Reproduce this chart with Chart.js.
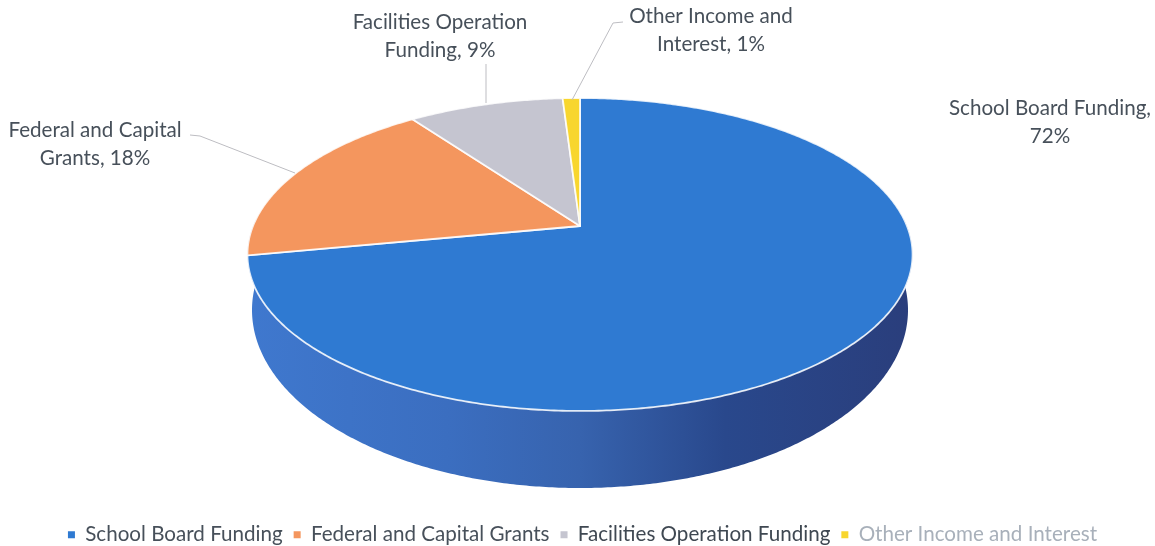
<!DOCTYPE html>
<html>
<head>
<meta charset="utf-8">
<title>Funding</title>
<script src="https://cdn.jsdelivr.net/npm/chart.js@4"></script>
<style>
  body { margin: 0; background: #fff; }
  canvas { display: block; }
</style>
</head>
<body>
<canvas id="fundingChart" width="1155" height="546"></canvas>
<script>
const categories = [
  "School Board Funding",
  "Federal and Capital Grants",
  "Facilities Operation Funding",
  "Other Income and Interest",
];
const shares = [72, 18, 9, 1];
const sliceColors = ["#2F7AD2", "#F4965E", "#C5C5D0", "#F8D62E"];
const legendTextColors = ["#47505a", "#47505a", "#3f4852", "#a8b0ba"];
const calloutLines = [
  ["School Board Funding,", "72%"],
  ["Federal and Capital", "Grants, 18%"],
  ["Facilities Operation", "Funding, 9%"],
  ["Other Income and", "Interest, 1%"],
];

// The tilted pie: top face and bottom rim are the circle seen in perspective
const topRim = { cx: 580, cy: 226, a: 327, b: 151.3, k: -0.182 };
const bottomRim = { cx: 580, cy: 310, a: 328, b: 178, k: 0 };

function project(rim, angle) {
  const u = Math.cos(angle);
  const v = Math.sin(angle);
  const d = 1 + rim.k * v;
  return { x: rim.cx + (rim.a * u) / d, y: rim.cy + (rim.b * v) / d };
}

function traceRim(ctx, rim, from, to) {
  const steps = Math.max(2, Math.ceil(Math.abs(to - from) / 0.01));
  for (let i = 0; i <= steps; i++) {
    const p = project(rim, from + ((to - from) * i) / steps);
    ctx.lineTo(p.x, p.y);
  }
}

const pie3d = {
  id: "pie3d",
  beforeDatasetDraw(chart) {
    const ctx = chart.ctx;
    const arcs = chart.getDatasetMeta(0).data;

    // outer wall, front half only (the rest sits behind the top face)
    const wall = ctx.createLinearGradient(250, 0, 910, 0);
    wall.addColorStop(0, "#3F78CE");
    wall.addColorStop(0.3, "#3B6EC0");
    wall.addColorStop(0.5, "#3763AE");
    wall.addColorStop(0.72, "#29488C");
    wall.addColorStop(1, "#2A3E7C");
    ctx.save();
    ctx.beginPath();
    traceRim(ctx, topRim, -0.05, Math.PI + 0.05);
    traceRim(ctx, bottomRim, Math.PI + 0.3, -0.3);
    ctx.closePath();
    ctx.fillStyle = wall;
    ctx.fill();

    // top face slices
    arcs.forEach((arc, i) => {
      ctx.beginPath();
      ctx.moveTo(topRim.cx, topRim.cy);
      traceRim(ctx, topRim, arc.startAngle, arc.endAngle);
      ctx.closePath();
      ctx.fillStyle = sliceColors[i];
      ctx.fill();
      ctx.lineWidth = 1.8;
      ctx.lineJoin = "round";
      ctx.strokeStyle = "rgba(255,255,255,0.85)";
      ctx.stroke();
    });
    ctx.restore();
    return false;
  },
  afterDatasetsDraw(chart) {
    const ctx = chart.ctx;
    ctx.save();

    // leader lines
    ctx.strokeStyle = "#bdbdc2";
    ctx.lineWidth = 1;
    [
      [[190, 135], [200, 136], [295, 173]],
      [[486, 64], [486, 103]],
      [[623, 22], [613, 23], [572, 100]],
    ].forEach((line) => {
      ctx.beginPath();
      line.forEach((p) => ctx.lineTo(p[0], p[1]));
      ctx.stroke();
    });

    // callouts
    const spots = [
      [1050, 108],
      [95, 130],
      [440, 22],
      [711, 16],
    ];
    ctx.font = "20.6px Lato";
    ctx.fillStyle = "#47505a";
    ctx.textAlign = "center";
    ctx.textBaseline = "middle";
    calloutLines.forEach((lines, i) => {
      lines.forEach((line, j) => {
        ctx.fillText(line, spots[i][0], spots[i][1] + j * 28);
      });
    });
    ctx.restore();
  },
};

new Chart(document.getElementById("fundingChart"), {
  type: "pie",
  data: {
    labels: categories,
    datasets: [{ data: shares, backgroundColor: sliceColors, borderWidth: 0 }],
  },
  plugins: [pie3d],
  options: {
    responsive: false,
    animation: false,
    layout: { padding: { bottom: -9, left: 10 } },
    plugins: {
      tooltip: { enabled: false },
      legend: {
        position: "bottom",
        labels: {
          font: { family: "Lato", size: 20.6 },
          usePointStyle: true,
          pointStyle: "rect",
          boxWidth: 7,
          boxHeight: 7,
          padding: 11,
          generateLabels() {
            return categories.map((name, i) => ({
              text: name,
              fillStyle: sliceColors[i],
              strokeStyle: sliceColors[i],
              lineWidth: 0,
              pointStyle: "rect",
              fontColor: legendTextColors[i],
              index: i,
            }));
          },
        },
      },
    },
  },
});
</script>
</body>
</html>
